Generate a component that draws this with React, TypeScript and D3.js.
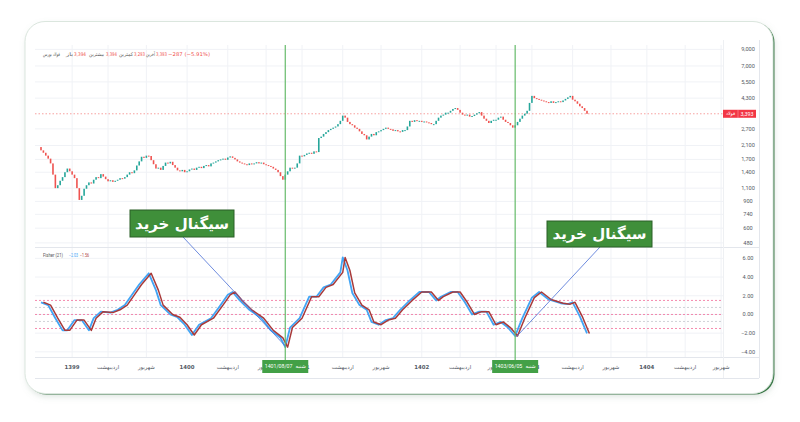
import React from "react";
import * as d3 from "d3";

const W = 800;
const H = 422;

// ---- price data (weekly closes) ----
const firstOpen = 2050;
const closes = [
  1950, 1880, 1800, 1720, 1600, 1350, 1100, 1150, 1230, 1300,
  1400, 1480, 1420, 1350, 1280, 1100, 920, 980, 1090, 1150,
  1200, 1180, 1250, 1300, 1280, 1360, 1310, 1260, 1220, 1240,
  1210, 1230, 1250, 1280, 1270, 1300, 1350, 1400, 1380, 1440,
  1550, 1650, 1770, 1740, 1800, 1790, 1680, 1580, 1480, 1500,
  1450, 1540, 1620, 1600, 1640, 1560, 1500, 1440, 1420, 1450,
  1400, 1420, 1460, 1480, 1450, 1500, 1520, 1490, 1540, 1560,
  1530, 1600, 1620, 1650, 1680, 1700, 1720, 1690, 1750, 1780,
  1740, 1700, 1650, 1620, 1600, 1580, 1560, 1600, 1590, 1600,
  1630, 1600, 1620, 1580, 1560, 1540, 1520, 1480, 1450, 1400,
  1320, 1250, 1350, 1420, 1500, 1480, 1500, 1600, 1800, 1780,
  1820, 1860, 1880, 1850, 1920, 1900, 2350, 2400, 2500, 2570,
  2650, 2700, 2750, 2800, 2900, 3050, 3300, 3200, 3000, 2900,
  2850, 2750, 2700, 2600, 2500, 2450, 2300, 2400, 2500, 2450,
  2570, 2600, 2650, 2700, 2750, 2700, 2680, 2620, 2650, 2600,
  2580, 2650, 2650, 2800, 3050, 3000, 3080, 3050, 3050, 3000,
  3020, 2980, 2950, 2900, 2900, 3050, 3200, 3300, 3350, 3450,
  3450, 3550, 3650, 3700, 3600, 3450, 3350, 3300, 3350, 3250,
  3280, 3350, 3420, 3480, 3300, 3150, 3050, 2950, 3050, 3100,
  3100, 3200, 3250, 3100, 3000, 2950, 2850, 2750, 2850, 3000,
  3150, 3300, 3400, 3550, 4000, 4450, 4300, 4250, 4200, 4150,
  4100, 4050, 4000, 4100, 4000, 4050, 4100, 4050, 4150, 4250,
  4350, 4450, 4200, 4100, 3950, 3800, 3700, 3550, 3393,
];
const lastPrice = 3393;

// ---- Fisher (21) values read at bar indices ----
const fisherBars = [
  0, 3, 6, 9, 11, 14, 17, 20, 22, 25, 29, 32, 35, 38, 41, 45, 48, 50, 54, 57,
  60, 63, 66, 71, 75, 78, 80, 83, 87, 92, 96, 100, 102, 104, 108, 112, 115, 118, 121, 125,
  126, 128, 130, 133, 136, 138, 141, 144, 147, 150, 154, 158, 162, 165, 167, 171, 174, 177, 180, 183,
  186, 189, 192, 195, 198, 201, 205, 208, 212, 217, 220, 222, 225, 228,
];
const fisherVals = [
  1.3, 1.0, -0.4, -1.7, -1.7, -0.6, -0.6, -1.7, -0.4, 0.3, 0.2, 0.5, 1.0, 2.1, 3.2, 4.4, 2.6, 1.0, 0.0, -0.3,
  -1.1, -2.2, -1.1, -0.4, 1.0, 2.1, 2.4, 1.5, 0.5, -0.4, -1.7, -2.5, -3.5, -1.4, -0.4, 1.9, 1.9, 2.9, 3.2, 4.5,
  6.1, 4.7, 2.3, 1.0, 0.5, -0.8, -1.1, -0.6, -0.4, 0.5, 1.5, 2.4, 2.4, 1.5, 1.9, 2.4, 2.4, 1.3, 0.0, 0.3,
  0.3, -1.1, -0.8, -1.4, -2.3, -0.4, 1.8, 2.4, 1.6, 1.2, 1.1, 1.3, -0.2, -2.03,
];
const fisherLevels = [1.5, 0.75, 0, -0.75, -1.5];
const fisherLevelKinds = ["pink", "gray", "pink", "gray", "pink"];

// ---- axes ----
const priceTicks = [9000, 7000, 5500, 4300, 2700, 2100, 1700, 1400, 1100, 900, 740, 600, 480];
const fisherTicks = [6, 4, 2, 0, -2, -4];
const timeTickBars = [13, 28, 44, 61, 78, 94, 109, 126, 142, 159, 175, 190, 205, 222, 238, 253, 269, 284];
const timeTickLabels = [
  "1399", "اردیبهشت", "شهریور", "1400", "اردیبهشت", "شهریور", "1401", "اردیبهشت", "شهریور",
  "1402", "اردیبهشت", "شهریور", "1403", "اردیبهشت", "شهریور", "1404", "اردیبهشت", "شهریور",
];

// ---- legend ----
const legendTexts = ["فولاد بورس", "باز", "3,394", "بیشترین", "3,394", "کمترین", "3,293", "آخرین", "3,393", "−287 (−5.91%)"];
const legendIsValue = [false, false, true, false, true, false, true, false, true, true];
const fisherLegend = ["Fisher (21)", "−2.03", "−1.56"];

// ---- signals ----
const signalBars = [102, 198];
const signalDates = ["1401/08/07", "1403/06/05"];
const signalDay = "شنبه";
const calloutText = "سیگنال خرید";

const UP = "#26a69a";
const DOWN = "#ef5350";
const GRID = "#f0f2f6";
const AXIS_TEXT = "#555b66";
const FISH = "#42a5f5";
const TRIG = "#a83a3a";

export default function App() {
  const N = closes.length;
  const x = d3.scaleLinear().domain([0, N - 1]).range([41, 587]);
  const yP = d3.scaleLog().domain([465, 9616]).range([245, 45]);
  const yF = d3.scaleLinear().domain([-4.55, 7.0]).range([357, 249]);

  const plotL = 35;
  const plotR = 723;
  const axisX = 748;
  const font = "Roboto, 'DejaVu Sans', sans-serif";
  const fa = "'DejaVu Sans', sans-serif";

  const barStep = x(1) - x(0);
  const fisherPts = fisherBars.map((b, i) => [x(b), yF(fisherVals[i])] as [number, number]);
  const line = d3.line<[number, number]>().x((d) => d[0]).y((d) => d[1]);
  const fisherPath = line(fisherPts) || "";
  const triggerPath = line(fisherPts.map((p) => [p[0] + barStep, p[1]] as [number, number])) || "";

  const candles = closes.map((c, i) => {
    const o = i === 0 ? firstOpen : closes[i - 1];
    const hi = Math.max(o, c);
    const lo = Math.min(o, c);
    const y0 = yP(hi);
    const y1 = yP(lo);
    return (
      <rect
        key={i}
        x={x(i) - 0.8}
        y={y0}
        width={1.6}
        height={Math.max(1, y1 - y0)}
        fill={c >= o ? UP : DOWN}
      />
    );
  });

  const callouts = [
    { bx: 130, by: 210, bw: 104, bh: 27, lx1: 183, ly1: 237, lx2: x(signalBars[0]), ly2: 346 },
    { bx: 547, by: 221, bw: 105, bh: 26, lx1: 600, ly1: 247, lx2: x(signalBars[1]) + 1, ly2: 337 },
  ];

  const legendX = [43, 66, 74, 89, 106, 119, 134, 146, 156, 168];
  const legendW = [17, 7, 12, 15, 11, 14, 11, 9, 11, 42];
  const fLegX = [43, 69, 80];
  const fLegW = [20, 9, 9];

  return (
    <svg
      width={W}
      height={H}
      viewBox={`0 0 ${W} ${H}`}
      style={{ position: "absolute", left: 0, top: 0, background: "#ffffff" }}
      fontFamily={font}
    >
      <defs>
        <filter id="sh" x="-5%" y="-5%" width="110%" height="115%">
          <feDropShadow dx="0" dy="2" stdDeviation="3" floodColor="#8fa996" floodOpacity="0.3" />
        </filter>
        <clipPath id="plotClip">
          <rect x={plotL} y={45} width={plotR - plotL} height={312} />
        </clipPath>
      </defs>

      {/* card */}
      <rect x={26.5} y={22.5} width={748} height={372} rx={20} fill="#3b7a48" filter="url(#sh)" />
      <rect x={25} y={21.5} width={748} height={372} rx={20} fill="#ffffff" stroke="#dbe6de" strokeWidth={1} />

      {/* grid */}
      {priceTicks.map((p) => (
        <line key={"gp" + p} x1={plotL} x2={plotR} y1={yP(p)} y2={yP(p)} stroke={GRID} strokeWidth={1} />
      ))}
      {fisherTicks.map((v) => (
        <line key={"gf" + v} x1={plotL} x2={plotR} y1={yF(v)} y2={yF(v)} stroke={GRID} strokeWidth={1} />
      ))}
      {timeTickBars.map((b) => (
        <line key={"gv" + b} x1={x(b)} x2={x(b)} y1={45} y2={357} stroke={GRID} strokeWidth={1} />
      ))}

      {/* pane separators and borders */}
      <line x1={plotL} x2={759} y1={247.5} y2={247.5} stroke="#e3e6ec" strokeWidth={1} />
      <line x1={plotL} x2={759} y1={357.5} y2={357.5} stroke="#e3e6ec" strokeWidth={1} />
      <line x1={plotR + 0.5} x2={plotR + 0.5} y1={40} y2={378} stroke="#eef0f3" strokeWidth={1} />
      <line x1={759.5} x2={759.5} y1={40} y2={378} stroke="#e3e6ec" strokeWidth={1} />
      <line x1={plotL} x2={759} y1={378.5} y2={378.5} stroke="#e3e6ec" strokeWidth={1} />

      {/* last price dashed line */}
      <line x1={plotL} x2={plotR} y1={yP(lastPrice)} y2={yP(lastPrice)} stroke={DOWN} strokeOpacity={0.55} strokeDasharray="1.5,2" strokeWidth={1} />

      {/* candles */}
      <g clipPath="url(#plotClip)">{candles}</g>

      {/* fisher levels */}
      {fisherLevels.map((v, i) => (
        <line
          key={"fl" + v}
          x1={plotL}
          x2={plotR}
          y1={yF(v)}
          y2={yF(v)}
          stroke={fisherLevelKinds[i] === "pink" ? "#f06292" : "#b0b4bc"}
          strokeOpacity={fisherLevelKinds[i] === "pink" ? 0.75 : 0.6}
          strokeDasharray="2,2"
          strokeWidth={1}
        />
      ))}

      {/* fisher lines */}
      <path d={fisherPath} fill="none" stroke={FISH} strokeWidth={1.8} strokeLinejoin="round" />
      <path d={triggerPath} fill="none" stroke={TRIG} strokeWidth={1.5} strokeLinejoin="round" />

      {/* signal verticals */}
      {signalBars.map((b) => (
        <line key={"sv" + b} x1={x(b)} x2={x(b)} y1={45} y2={360} stroke="#66bb6a" strokeWidth={1.2} />
      ))}

      {/* right price axis labels */}
      {priceTicks.map((p) => (
        <text key={"pt" + p} x={axisX} y={yP(p)} dy="0.35em" fontSize={5.6} fill={AXIS_TEXT} textAnchor="middle">
          {d3.format(",")(p)}
        </text>
      ))}
      <rect x={723} y={yP(lastPrice) - 4} width={33} height={8} fill="#f23645" />
      <line x1={738} x2={738} y1={yP(lastPrice) - 4} y2={yP(lastPrice) + 4} stroke="#ffffff" strokeOpacity={0.6} strokeWidth={0.5} />
      <text x={730.5} y={yP(lastPrice)} dy="0.35em" fontSize={4.6} fill="#ffffff" textAnchor="middle" fontFamily={fa}>
        فولاد
      </text>
      <text x={747} y={yP(lastPrice)} dy="0.35em" fontSize={5.4} fill="#ffffff" textAnchor="middle">
        {d3.format(",")(lastPrice)}
      </text>

      {/* fisher axis labels */}
      {fisherTicks.map((v) => (
        <text key={"ft" + v} x={axisX} y={yF(v)} dy="0.35em" fontSize={5.6} fill={AXIS_TEXT} textAnchor="middle">
          {d3.format(".2f")(v).replace("-", "−")}
        </text>
      ))}

      {/* time axis labels */}
      {timeTickBars.map((b, i) => (
        <text
          key={"tt" + b}
          x={x(b)}
          y={367}
          dy="0.35em"
          fontSize={5.4}
          fill={AXIS_TEXT}
          textAnchor="middle"
          fontWeight={/^\d+$/.test(timeTickLabels[i]) ? 600 : 400}
          fontFamily={fa}
        >
          {timeTickLabels[i]}
        </text>
      ))}

      {/* signal date boxes */}
      {signalBars.map((b, i) => (
        <g key={"sd" + b}>
          <rect x={x(b) - 23} y={360} width={46} height={13} fill="#43a047" />
          <text x={x(b) - 20.5} y={366.5} dy="0.35em" fontSize={5.2} fill="#ffffff" textAnchor="start">
            {signalDates[i]}
          </text>
          <text x={x(b) + 20.5} y={366.5} dy="0.35em" fontSize={5.2} fill="#ffffff" textAnchor="end" fontFamily={fa}>
            {signalDay}
          </text>
        </g>
      ))}

      {/* legends */}
      <g fontSize={5} fontFamily={fa}>
        {legendTexts.map((t, i) => (
          <text
            key={"lg" + i}
            x={legendX[i]}
            y={56}
            textLength={legendW[i]}
            lengthAdjust="spacingAndGlyphs"
            fill={legendIsValue[i] ? DOWN : "#555"}
          >
            {t}
          </text>
        ))}
      </g>
      <g fontSize={5}>
        {fisherLegend.map((t, i) => (
          <text
            key={"fg" + i}
            x={fLegX[i]}
            y={257}
            textLength={fLegW[i]}
            lengthAdjust="spacingAndGlyphs"
            fill={i === 0 ? "#555" : i === 1 ? FISH : TRIG}
          >
            {t}
          </text>
        ))}
      </g>

      {/* callouts */}
      {callouts.map((c, i) => (
        <g key={"co" + i}>
          <line x1={c.lx1} y1={c.ly1} x2={c.lx2} y2={c.ly2} stroke="#4a6fd6" strokeWidth={0.8} />
          <rect x={c.bx} y={c.by} width={c.bw} height={c.bh} fill="#3f8f3a" stroke="#2b5f27" strokeWidth={1} />
          <text
            x={c.bx + c.bw / 2}
            y={c.by + c.bh / 2}
            dy="0.35em"
            fontSize={15}
            fontWeight={700}
            fill="#ffffff"
            textAnchor="middle"
            fontFamily={fa}
          >
            {calloutText}
          </text>
        </g>
      ))}
    </svg>
  );
}
